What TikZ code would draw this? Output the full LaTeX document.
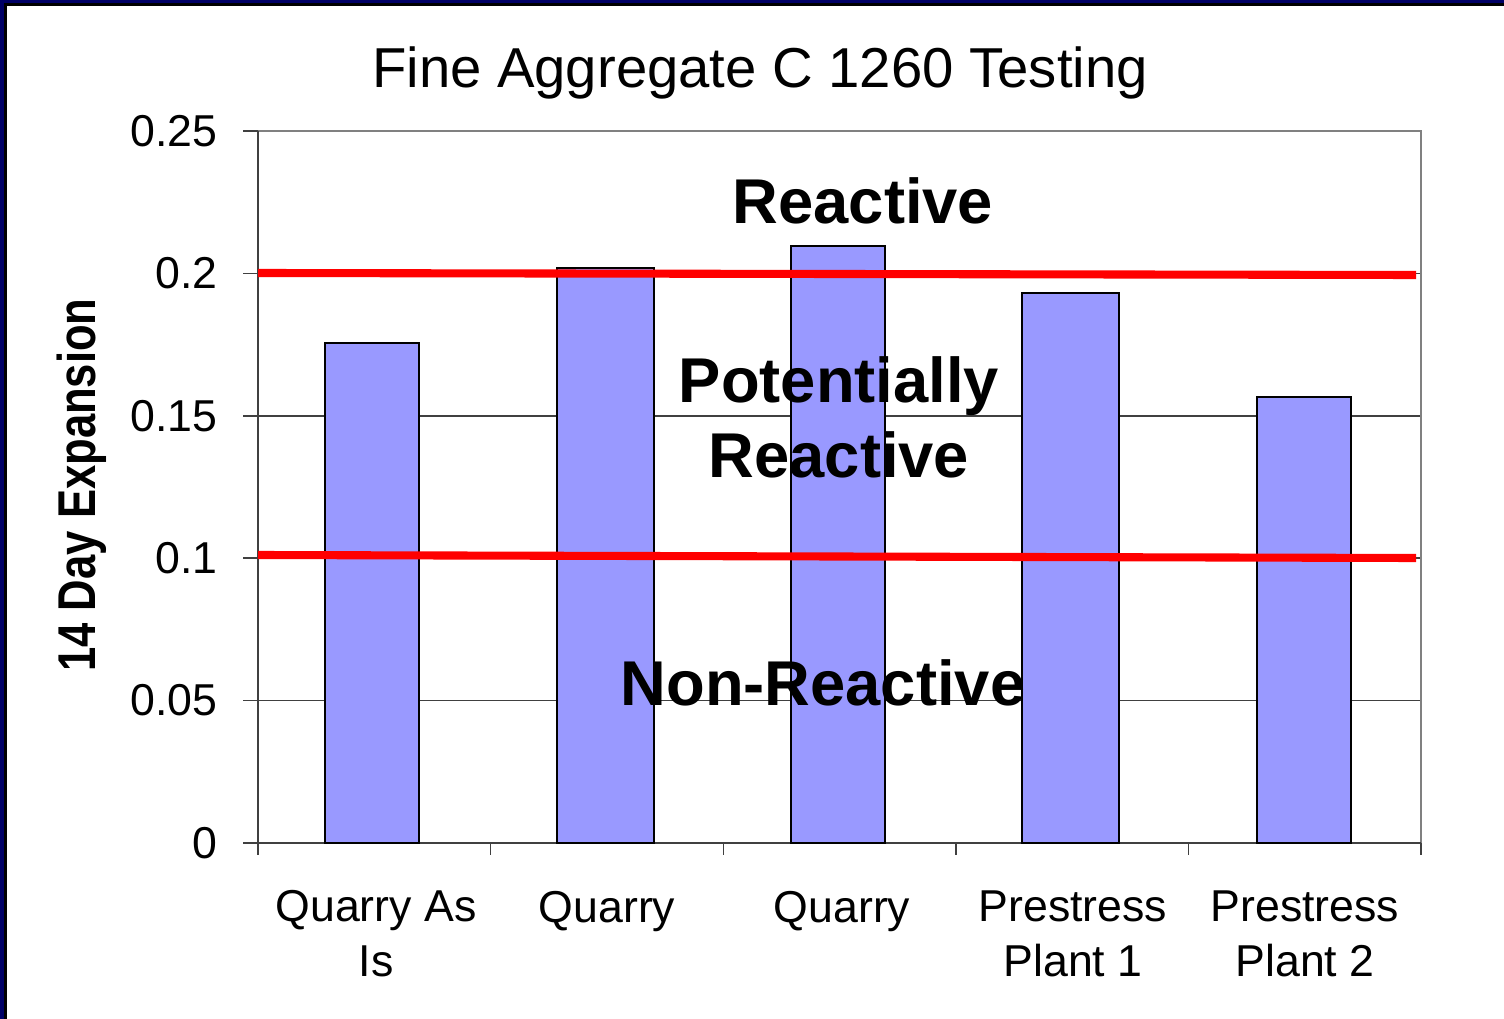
\documentclass[tikz,border=0pt]{standalone}
\usepackage{fontspec}
\setmainfont{Liberation Sans}
\usetikzlibrary{positioning}
\definecolor{barblue}{HTML}{9999FF}
\definecolor{slidenavy}{HTML}{000066}
\tikzset{
  barbox/.style={draw=black, fill=barblue, line width=0.8pt},
  limitline/.style={draw=red, line width=2.3pt},
  gridln/.style={draw=black!75, line width=0.4pt},
  framebox/.style={draw=black!50, line width=0.7pt},
  ticklab/.style={inner sep=0pt, font=\fontsize{12.7pt}{15.4pt}\selectfont},
  catlab/.style={inner sep=0pt, align=center, font=\fontsize{12.7pt}{15.4pt}\selectfont},
  zonelab/.style={inner sep=0pt, align=center, font=\fontsize{18pt}{21.5pt}\selectfont\bfseries},
}

\begin{document}
\begin{tikzpicture}[x=0.01cm,y=-0.01cm]
\useasboundingbox (0,0) rectangle (1504,1019);
% slide edge
\fill[slidenavy] (0,0) rectangle (4,1019);
\fill[slidenavy] (0,0) rectangle (1504,3);
\fill[black] (4,3) rectangle (7,1019);
\fill[black] (4,3) rectangle (1504,6);
% plot area
\foreach \gy in {273.4,415.8,558.2,700.6}
  \draw[gridln] (258,\gy) -- (1421,\gy);
\draw[framebox] (258,131) -- (1421,131) -- (1421,843);
\draw[gridln] (258,131) -- (258,843) -- (1421,843);
\foreach \gy in {131,273.4,415.8,558.2,700.6,843}
  \draw[gridln] (243,\gy) -- (258,\gy);
\foreach \gx in {258,490.6,723.2,955.8,1188.4,1421}
  \draw[gridln] (\gx,843) -- (\gx,855);
% bars
\draw[barbox] (325,843) rectangle (419,343);
\draw[barbox] (557,843) rectangle (654,268);
\draw[barbox] (791,843) rectangle (885,246);
\draw[barbox] (1022,843) rectangle (1119,293);
\draw[barbox] (1257,843) rectangle (1351,397);
% limits
\draw[limitline] (258,273) -- (1416,275);
\draw[limitline] (258,555) -- (1416,558);
% texts
\node[inner sep=0pt, anchor=base, font=\fontsize{16pt}{19pt}\selectfont] (title) at (760,88)
  {Fine Aggregate C 1260 Testing};
\node[inner sep=0pt, anchor=base, rotate=90, font=\fontsize{12.4pt}{15pt}\selectfont\bfseries] (ylab) at (95,485)
  {\scalebox{1}[1.22]{14 Day Expansion}};
\node[ticklab, anchor=east] (t25) at (218,131) {0.25};
\node[ticklab, anchor=east] (t20) at (218,273.4) {0.2};
\node[ticklab, anchor=east] (t15) at (218,415.8) {0.15};
\node[ticklab, anchor=east] (t10) at (218,558.2) {0.1};
\node[ticklab, anchor=east] (t05) at (218,700.6) {0.05};
\node[ticklab, anchor=east] (t00) at (218,843) {0};
\node[catlab, anchor=base] (asis) at (376,976) {Quarry As\\Is};
\node[catlab, anchor=base] (qa) at (607,922) {Quarry};
\node[catlab, anchor=base] (qb) at (842,922) {Quarry};
\node[catlab, anchor=base] (pone) at (1073,976) {Prestress\\Plant 1};
\node[catlab, anchor=base] (ptwo) at (1305,976) {Prestress\\Plant 2};
\node[zonelab, anchor=base] (reac) at (863,224) {Reactive};
\node[zonelab, anchor=base] (pot) at (839,403) {Potentially};
\node[zonelab, anchor=base] (potr) at (839,478) {Reactive};
\node[zonelab, anchor=base] (nonr) at (823,705) {Non-Reactive};
\end{tikzpicture}
\end{document}
